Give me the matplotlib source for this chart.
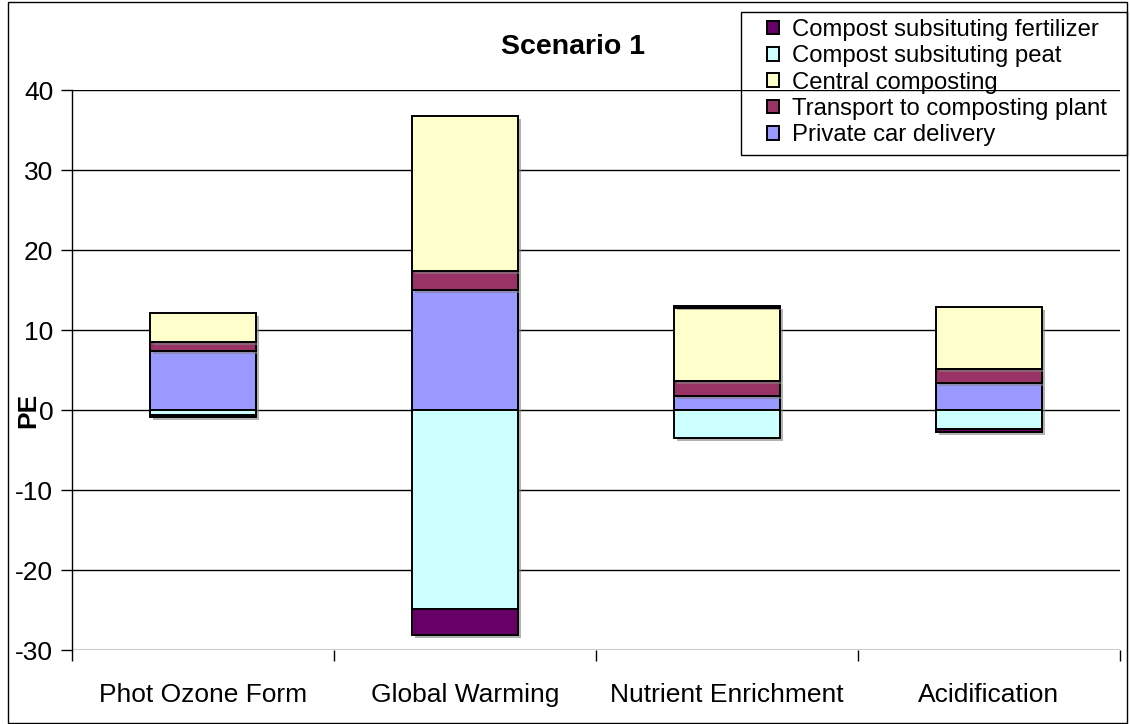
import matplotlib
matplotlib.use("Agg")
import matplotlib.pyplot as plt
import matplotlib.patheffects as pe
from matplotlib.patches import Rectangle
import numpy as np

plt.rcParams['font.family'] = ['Liberation Sans', 'DejaVu Sans']

categories = ["Phot Ozone Form", "Global Warming", "Nutrient Enrichment", "Acidification"]

# stacking order, bottom to top
private_car = [7.4, 15.0, 1.75, 3.4]
transport = [1.1, 2.4, 1.85, 1.7]
central = [3.6, 19.35, 9.2, 7.8]
peat = [-0.6, -24.9, -3.5, -2.4]
fertilizer = [-0.3, -3.2, 0.15, -0.4]

series = [
    ("Private car delivery", private_car, "#9999FF"),
    ("Transport to composting plant", transport, "#993366"),
    ("Central composting", central, "#FFFFCC"),
    ("Compost subsituting peat", peat, "#CCFFFF"),
    ("Compost subsituting fertilizer", fertilizer, "#660066"),
]

yticks = [-30, -20, -10, 0, 10, 20, 30, 40]

W, H = 1130, 724
fig = plt.figure(figsize=(W / 100, H / 100), dpi=100)
ax = fig.add_axes([72 / W, 1 - 650 / H, (1120 - 72) / W, (650 - 90) / H])

x = np.arange(len(categories))
pos_base = np.zeros(len(categories))
neg_base = np.zeros(len(categories))
shadow = [pe.SimplePatchShadow(offset=(2, -2), shadow_rgbFace="#808080", alpha=0.6), pe.Normal()]
handles = {}
for name, vals, color in series:
    vals = np.array(vals, dtype=float)
    bottoms = np.where(vals >= 0, pos_base, neg_base)
    bars = ax.bar(x, vals, width=0.405, bottom=bottoms, color=color,
                  edgecolor="black", linewidth=1.4, zorder=3)
    for b in bars:
        b.set_path_effects(shadow)
    handles[name] = bars
    pos_base = pos_base + np.where(vals >= 0, vals, 0)
    neg_base = neg_base + np.where(vals < 0, vals, 0)

ax.set_xlim(-0.5, len(categories) - 0.5)
ax.set_ylim(-30, 40)
ax.set_yticks(yticks)
ax.set_yticklabels([str(v) for v in yticks])
ax.set_xticks(x)
ax.set_xticklabels(categories)
ax.set_xticks(np.arange(len(categories) + 1) - 0.5, minor=True)
ax.tick_params(axis="x", which="major", length=0, pad=24, labelsize=19)
ax.tick_params(axis="x", which="minor", length=8, width=1, direction="out")
ax.tick_params(axis="y", length=8, width=1, direction="out", pad=5.5, labelsize=19)

for v in yticks:
    ax.axhline(v, color="black", linewidth=1.0, zorder=1)

for s in ["top", "right", "bottom"]:
    ax.spines[s].set_visible(False)
ax.spines["left"].set_linewidth(1.0)

fig.text(28 / W, 1 - 410 / H, "PE", fontsize=19, fontweight="bold",
         rotation=90, ha="center", va="center")
fig.text(573 / W, 1 - 47 / H, "Scenario 1", fontsize=20.5, fontweight="bold",
         ha="center", va="center")

order = ["Compost subsituting fertilizer", "Compost subsituting peat",
         "Central composting", "Transport to composting plant", "Private car delivery"]
leg = fig.legend([handles[n] for n in order], order,
                 loc="upper left", bbox_to_anchor=(767 / W, 1 - 19 / H),
                 bbox_transform=fig.transFigure, borderaxespad=0,
                 fontsize=17.2, frameon=False,
                 handlelength=0.5, handleheight=0.5,
                 handletextpad=0.55, labelspacing=0.18, borderpad=0)
for h in leg.legend_handles:
    h.set_path_effects([])

# legend frame
fig.patches.append(Rectangle((741 / W, 1 - 155 / H), (1127 - 741) / W, (155 - 12) / H,
                             transform=fig.transFigure, fill=False,
                             edgecolor="black", linewidth=1.0, zorder=5))
# outer chart border
fig.patches.append(Rectangle((8 / W, 1 / H), (1127 - 8) / W, (722 - 1) / H,
                             transform=fig.transFigure, fill=False,
                             edgecolor="black", linewidth=1.0))

fig.savefig("out.png", dpi=100)
